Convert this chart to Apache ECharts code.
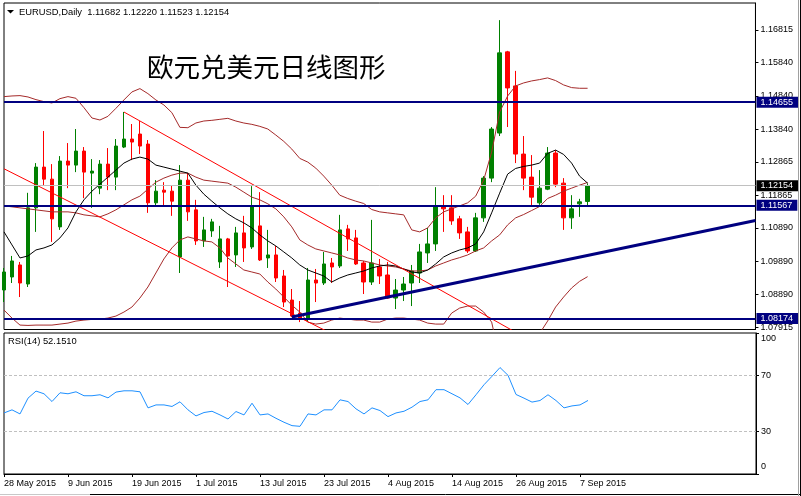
<!DOCTYPE html>
<html>
<head>
<meta charset="utf-8">
<title>EURUSD Daily</title>
<script src="https://cdn.jsdelivr.net/npm/echarts@6/dist/echarts.min.js"></script>
<style>
  html, body { margin: 0; padding: 0; background: #fff; }
  #chart { width: 801px; height: 496px; }
</style>
</head>
<body>
<div id="chart"></div>
<script>
var dates = [
  '28 May 2015', '29 May 2015', '1 Jun 2015', '2 Jun 2015', '3 Jun 2015', '4 Jun 2015', '5 Jun 2015', '8 Jun 2015',
  '9 Jun 2015', '10 Jun 2015', '11 Jun 2015', '12 Jun 2015', '15 Jun 2015', '16 Jun 2015', '17 Jun 2015', '18 Jun 2015',
  '19 Jun 2015', '22 Jun 2015', '23 Jun 2015', '24 Jun 2015', '25 Jun 2015', '26 Jun 2015', '29 Jun 2015', '30 Jun 2015',
  '1 Jul 2015', '2 Jul 2015', '3 Jul 2015', '6 Jul 2015', '7 Jul 2015', '8 Jul 2015', '9 Jul 2015', '10 Jul 2015',
  '13 Jul 2015', '14 Jul 2015', '15 Jul 2015', '16 Jul 2015', '17 Jul 2015', '20 Jul 2015', '21 Jul 2015', '22 Jul 2015',
  '23 Jul 2015', '24 Jul 2015', '27 Jul 2015', '28 Jul 2015', '29 Jul 2015', '30 Jul 2015', '31 Jul 2015', '3 Aug 2015',
  '4 Aug 2015', '5 Aug 2015', '6 Aug 2015', '7 Aug 2015', '10 Aug 2015', '11 Aug 2015', '12 Aug 2015', '13 Aug 2015',
  '14 Aug 2015', '17 Aug 2015', '18 Aug 2015', '19 Aug 2015', '20 Aug 2015', '21 Aug 2015', '24 Aug 2015', '25 Aug 2015',
  '26 Aug 2015', '27 Aug 2015', '28 Aug 2015', '31 Aug 2015', '1 Sep 2015', '2 Sep 2015', '3 Sep 2015', '4 Sep 2015',
  '7 Sep 2015', '8 Sep 2015'
];
var emptySlots = 21; // chart shift on the right

var opens = [
  1.0903, 1.0942, 1.0978, 1.0921, 1.1149, 1.1271, 1.1235, 1.1092, 1.1289, 1.1277,
  1.1319, 1.1253, 1.1208, 1.1280, 1.1241, 1.1331, 1.1355, 1.1370, 1.1340, 1.1164,
  1.1202, 1.1199, 1.1002, 1.1232, 1.1143, 1.1050, 1.1080, 1.0987, 1.1056, 1.1008,
  1.1074, 1.1032, 1.1095, 1.0999, 1.1008, 1.0945, 1.0873, 1.0834, 1.0819, 1.0933,
  1.0924, 1.0984, 1.0975, 1.1086, 1.1059, 1.0984, 1.0927, 1.0972, 1.0948, 1.0879,
  1.0903, 1.0924, 1.0954, 1.1014, 1.1041, 1.1155, 1.1149, 1.1116, 1.1077, 1.1020,
  1.1119, 1.1238, 1.1373, 1.1616, 1.1514, 1.1310, 1.1241, 1.1164, 1.1205, 1.1313,
  1.1223, 1.1119, 1.1161, 1.11682
];
var closes = [
  1.0957, 1.0990, 1.0924, 1.1149, 1.1271, 1.1235, 1.1116, 1.1289, 1.1277, 1.1319,
  1.1256, 1.1259, 1.1280, 1.1241, 1.1334, 1.1355, 1.1346, 1.1334, 1.1164, 1.1199,
  1.1196, 1.1169, 1.1232, 1.1137, 1.1050, 1.1083, 1.1107, 1.1056, 1.1005, 1.1074,
  1.1029, 1.1155, 1.0993, 1.1008, 1.0939, 1.0867, 1.0825, 1.0819, 1.0933, 1.0924,
  1.0981, 1.0972, 1.1083, 1.1056, 1.0981, 1.0927, 1.0984, 1.0945, 1.0879, 1.0903,
  1.0921, 1.0960, 1.1017, 1.1041, 1.1152, 1.1146, 1.1110, 1.1074, 1.1020, 1.1119,
  1.1238, 1.1385, 1.1613, 1.1508, 1.1310, 1.1238, 1.1181, 1.1208, 1.1313, 1.1220,
  1.1119, 1.1146, 1.1167, 1.12154
];
var lows = [
  1.0867, 1.0924, 1.0882, 1.0912, 1.1077, 1.1217, 1.1047, 1.1083, 1.1208, 1.1256,
  1.1178, 1.1149, 1.1190, 1.1202, 1.1202, 1.1328, 1.1292, 1.1310, 1.1134, 1.1152,
  1.1152, 1.1125, 1.0954, 1.1110, 1.1038, 1.1032, 1.1062, 1.0969, 1.0912, 1.0972,
  1.0987, 1.1026, 1.0990, 1.0969, 1.0927, 1.0852, 1.0822, 1.0807, 1.0807, 1.0867,
  1.0918, 1.0924, 1.0969, 1.1020, 1.0978, 1.0891, 1.0918, 1.0921, 1.0877, 1.0846,
  1.0870, 1.0855, 1.0924, 1.0984, 1.1020, 1.1077, 1.1098, 1.1056, 1.1014, 1.1017,
  1.1107, 1.1226, 1.1364, 1.1391, 1.1283, 1.1202, 1.1152, 1.1158, 1.1202, 1.1211,
  1.1083, 1.1086, 1.1122, 1.11523
];
var highs = [
  1.0969, 1.1005, 1.0987, 1.1194, 1.1283, 1.1379, 1.1280, 1.1304, 1.1343, 1.1385,
  1.1331, 1.1295, 1.1292, 1.1328, 1.1355, 1.1436, 1.1400, 1.1409, 1.1352, 1.1232,
  1.1226, 1.1217, 1.1277, 1.1253, 1.1173, 1.1122, 1.1116, 1.1095, 1.1059, 1.1092,
  1.1125, 1.1214, 1.1196, 1.1083, 1.1035, 1.0963, 1.0906, 1.0870, 1.0969, 1.0966,
  1.1017, 1.0999, 1.1128, 1.1098, 1.1083, 1.0990, 1.1113, 1.0996, 1.0987, 1.0936,
  1.0942, 1.0978, 1.1041, 1.1089, 1.1211, 1.1187, 1.1187, 1.1125, 1.1092, 1.1134,
  1.1244, 1.1391, 1.1711, 1.1619, 1.1559, 1.1364, 1.1307, 1.1262, 1.1331, 1.1322,
  1.1238, 1.1187, 1.1176, 1.12220
];

// Bollinger bands (brown) and the black moving average
var bbUpper = [
  1.1482, 1.1484, 1.1485, 1.1481, 1.1473, 1.1467, 1.1463, 1.1476, 1.1482, 1.1477,
  1.1449, 1.1418, 1.1412, 1.1423, 1.1447, 1.1472, 1.1496, 1.1506, 1.1491, 1.1472,
  1.1457, 1.1434, 1.1390, 1.1389, 1.1403, 1.1409, 1.1411, 1.1414, 1.1417, 1.1409,
  1.1403, 1.1399, 1.1393, 1.1385, 1.1367, 1.1348, 1.1325, 1.1297, 1.1286, 1.1268,
  1.1244, 1.1217, 1.1187, 1.1177, 1.1169, 1.1162, 1.1144, 1.1137, 1.1134, 1.1131,
  1.1128, 1.1083, 1.1077, 1.1089, 1.1119, 1.1137, 1.1146, 1.1155, 1.1164, 1.1184,
  1.1232, 1.1316, 1.1436, 1.1484, 1.1514, 1.1523, 1.1529, 1.1533, 1.1538, 1.1530,
  1.1517, 1.1509, 1.1507, 1.1507
];
var bbMiddle = [
  1.1155, 1.1152, 1.1149, 1.1146, 1.1143, 1.1140, 1.1137, 1.1137, 1.1137, 1.1134,
  1.1128, 1.1125, 1.1122, 1.1131, 1.1143, 1.1158, 1.1173, 1.1184, 1.1205, 1.1226,
  1.1238, 1.1247, 1.1253, 1.1253, 1.1241, 1.1232, 1.1229, 1.1226, 1.1223, 1.1211,
  1.1196, 1.1181, 1.1173, 1.1161, 1.1146, 1.1122, 1.1092, 1.1053, 1.1038, 1.1026,
  1.1020, 1.1014, 1.1008, 1.0999, 1.0993, 1.0990, 1.0984, 1.0978, 1.0975, 1.0972,
  1.0966, 1.0960, 1.0960, 1.0963, 1.0975, 1.0984, 1.0993, 1.1000, 1.1008, 1.1020,
  1.1029, 1.1050, 1.1068, 1.1098, 1.1119, 1.1129, 1.1141, 1.1153, 1.1177, 1.1187,
  1.1199, 1.1208, 1.1217, 1.1225
];
var bbLower = [
  1.0843, 1.0819, 1.0798, 1.0797, 1.0798, 1.0798, 1.0798, 1.0801, 1.0804, 1.0810,
  1.0813, 1.0815, 1.0816, 1.0819, 1.0825, 1.0837, 1.0852, 1.0879, 1.0912, 1.0954,
  1.0996, 1.1029, 1.1053, 1.1062, 1.1056, 1.1050, 1.1047, 1.1029, 1.0999, 1.0981,
  1.0963, 1.0957, 1.0951, 1.0927, 1.0906, 1.0882, 1.0858, 1.0837, 1.0807, 1.0801,
  1.0804, 1.0813, 1.0819, 1.0816, 1.0813, 1.0813, 1.0807, 1.0807, 1.0816, 1.0819,
  1.0819, 1.0816, 1.0813, 1.0804, 1.0801, 1.0801, 1.0834, 1.0849, 1.0855, 1.0855,
  1.0837, 1.0807, 1.0699, 1.0711, 1.0723, 1.0735, 1.0753, 1.0773, 1.0810, 1.0852,
  1.0882, 1.0909, 1.0929, 1.0943
];
var maBlack = [
  1.1077, 1.1038, 1.0999, 1.1005, 1.1023, 1.1029, 1.1038, 1.1059, 1.1089, 1.1137,
  1.1173, 1.1199, 1.1220, 1.1241, 1.1262, 1.1283, 1.1295, 1.1301, 1.1295, 1.1277,
  1.1271, 1.1265, 1.1259, 1.1253, 1.1217, 1.1190, 1.1169, 1.1149, 1.1131, 1.1116,
  1.1104, 1.1089, 1.1068, 1.1050, 1.1035, 1.1017, 1.0999, 1.0978, 1.0963, 1.0954,
  1.0945, 1.0927, 1.0939, 1.0948, 1.0954, 1.0960, 1.0969, 1.0975, 1.0978, 1.0975,
  1.0966, 1.0957, 1.0954, 1.0963, 1.0981, 1.1002, 1.1014, 1.1023, 1.1029, 1.1041,
  1.1077, 1.1134, 1.1193, 1.1250, 1.1267, 1.1273, 1.1277, 1.1283, 1.1312, 1.1322,
  1.1309, 1.1283, 1.1244, 1.1223
];
var rsi = [
  43.3, 45.5, 42.6, 53.8, 58.8, 56.9, 51.4, 57.6, 56.9, 58.3,
  55.5, 55.5, 56.2, 54.0, 58.1, 59.0, 59.0, 58.3, 46.9, 49.0,
  49.0, 47.9, 51.2, 45.5, 41.2, 43.6, 44.5, 41.9, 39.0, 44.3,
  41.9, 50.2, 41.9, 42.6, 39.5, 36.7, 34.3, 33.8, 42.6, 41.9,
  45.5, 45.5, 52.6, 51.4, 46.2, 42.6, 46.9, 45.0, 40.7, 43.3,
  44.5, 47.4, 51.4, 52.6, 59.8, 59.8, 56.9, 54.0, 49.3, 56.2,
  63.3, 69.3, 75.5, 70.0, 56.4, 53.8, 51.0, 52.1, 56.2, 52.1,
  46.9, 48.3, 49.0, 52.151
];

// drawn objects: [bar index, price]
var trendUp = [[36, 1.0822], [94, 1.1111]];
var channelTop = [[15, 1.1436], [65, 1.0763]];
var channelBottom = [[0, 1.1266], [42, 1.0760]];
var levels = [1.14655, 1.11567, 1.08174];
var bidPrice = 1.12154;

var priceTicks = [1.16815, 1.15840, 1.14840, 1.13840, 1.12865, 1.11865, 1.10890, 1.09890, 1.08890, 1.07915];
var priceMin = 1.07848, priceMax = 1.17623;
var rsiTicks = [0, 30, 70, 100];
var rsiLevels = [30, 70];

(function() {
  var font = 'Liberation Sans';
  var navy = '#000080';
  var brown = '#A52A2A';

  var cats = dates.slice();
  for (var k = 1; k <= emptySlots; k++) cats.push('+' + k);

  var candles = opens.map(function(o, i) { return [o, closes[i], lows[i], highs[i]]; });

  function near(list, v) {
    return list.some(function(x) { return Math.abs(x - v) < 1e-7; });
  }
  function showDate(idx) { return idx < dates.length && idx % 8 === 0; }
  function plainLine(name, data, color, width, xi, yi) {
    return {
      name: name, type: 'line', data: data, xAxisIndex: xi || 0, yAxisIndex: yi || 0,
      symbol: 'none', silent: true, z: 3,
      lineStyle: { color: color, width: width }
    };
  }

  var chart = echarts.init(document.getElementById('chart'), null, { renderer: 'canvas' });
  chart.setOption({
    animation: false,
    backgroundColor: '#ffffff',
    textStyle: { fontFamily: font },
    grid: [
      { left: 4, top: 3, width: 752, height: 326.5, show: true, borderColor: '#000', borderWidth: 1, backgroundColor: 'transparent' },
      { left: 4, top: 333, width: 752, height: 141, show: true, borderColor: '#000', borderWidth: 1, backgroundColor: 'transparent' }
    ],
    xAxis: [
      { type: 'category', gridIndex: 0, data: cats, boundaryGap: false, show: false },
      {
        type: 'category', gridIndex: 1, data: cats, boundaryGap: false,
        axisLine: { lineStyle: { color: '#000', width: 1 } },
        axisTick: { interval: function(i) { return showDate(i); }, length: 3, lineStyle: { color: '#000' } },
        axisLabel: {
          interval: function(i) { return showDate(i); },
          align: 'left', color: '#000', fontSize: 9, fontFamily: font, margin: 5
        },
        splitLine: { show: false }
      }
    ],
    yAxis: [
      {
        type: 'value', gridIndex: 0, position: 'right', scale: true,
        min: priceMin, max: priceMax,
        axisLine: { show: true, lineStyle: { color: '#000' } },
        axisTick: { show: true, length: 3, customValues: priceTicks, lineStyle: { color: '#000' } },
        axisLabel: {
          customValues: priceTicks.concat([bidPrice], levels),
          margin: 1, fontSize: 9, fontFamily: font, color: '#000',
          formatter: function(v) {
            var s = v.toFixed(5);
            if (near(levels, v)) return '{n|' + s + '}';
            if (Math.abs(v - bidPrice) < 1e-7) return '{b|' + s + '}';
            return '{p|' + s + '}';
          },
          rich: {
            p: { fontSize: 9, fontFamily: font, color: '#000', padding: [0, 0, 0, 4] },
            n: { fontSize: 9, fontFamily: font, color: '#fff', backgroundColor: navy, lineHeight: 9, padding: [1, 5, 1, 4] },
            b: { fontSize: 9, fontFamily: font, color: '#fff', backgroundColor: '#000', lineHeight: 9, padding: [1, 5, 1, 4] }
          }
        },
        splitLine: { show: false }
      },
      {
        type: 'value', gridIndex: 1, position: 'right', min: 0, max: 100,
        axisLine: { show: true, lineStyle: { color: '#000' } },
        axisTick: { show: true, length: 3, customValues: rsiTicks, lineStyle: { color: '#000' } },
        axisLabel: {
          customValues: rsiTicks, margin: 5, fontSize: 9, fontFamily: font, color: '#000',
          formatter: function(v) {
            if (v === 100) return '{t|100}';
            if (v === 0) return '{z|0}';
            return '{m|' + v + '}';
          },
          rich: {
            t: { fontSize: 9, fontFamily: font, color: '#000', padding: [12, 0, 0, 0] },
            z: { fontSize: 9, fontFamily: font, color: '#000', padding: [0, 0, 14, 0] },
            m: { fontSize: 9, fontFamily: font, color: '#000' }
          }
        },
        splitLine: { show: false }
      }
    ],
    graphic: [
      { type: 'polygon', shape: { points: [[7, 10], [14, 10], [10.5, 13.5]] }, style: { fill: '#000' } },
      {
        type: 'text', x: 19, y: 12,
        style: {
          text: 'EURUSD,Daily  ' + [opens[opens.length - 1], highs[highs.length - 1], lows[lows.length - 1], closes[closes.length - 1]]
            .map(function(v) { return v.toFixed(5); }).join(' '),
          font: '9.4px "Liberation Sans"', fill: '#000', verticalAlign: 'middle'
        }
      },
      {
        type: 'text', x: 147, y: 67,
        style: { text: '欧元兑美元日线图形', font: '26.5px "Noto Sans CJK SC"', fill: '#000', verticalAlign: 'middle' }
      },
      {
        type: 'text', x: 8, y: 341.5,
        style: { text: 'RSI(14) ' + rsi[rsi.length - 1].toFixed(4), font: '9.4px "Liberation Sans"', fill: '#000', verticalAlign: 'middle' }
      },
      { type: 'line', shape: { x1: 0, y1: 494.5, x2: 90, y2: 494.5 }, style: { stroke: '#c8c8c8', lineWidth: 1 } },
      { type: 'line', shape: { x1: 90, y1: 494.5, x2: 801, y2: 494.5 }, style: { stroke: '#000', lineWidth: 1 } },
      { type: 'line', shape: { x1: 798.5, y1: 0, x2: 798.5, y2: 496 }, style: { stroke: '#a0a0a0', lineWidth: 1 } },
      { type: 'line', shape: { x1: 800.5, y1: 0, x2: 800.5, y2: 496 }, style: { stroke: '#000', lineWidth: 1 } }
    ],
    series: [
      {
        name: 'EURUSD', type: 'candlestick', data: candles, xAxisIndex: 0, yAxisIndex: 0,
        barWidth: 4, silent: true, z: 2,
        itemStyle: {
          color: '#008000', color0: '#FF0000',
          borderColor: '#008000', borderColor0: '#FF0000', borderWidth: 1
        },
        markLine: {
          silent: true, symbol: ['none', 'none'], label: { show: false }, precision: 5,
          data: [{ yAxis: bidPrice, lineStyle: { color: '#C0C0C0', width: 1, type: 'solid' } }].concat(
            levels.map(function(v) { return { yAxis: v, lineStyle: { color: navy, width: 2, type: 'solid' } }; })
          )
        }
      },
      plainLine('BB upper', bbUpper, brown, 1),
      plainLine('BB middle', bbMiddle, brown, 1),
      plainLine('BB lower', bbLower, brown, 1),
      plainLine('MA', maBlack, '#000', 1),
      plainLine('channel top', channelTop, '#FF0000', 1),
      plainLine('channel bottom', channelBottom, '#FF0000', 1),
      plainLine('trend', trendUp, navy, 3),
      {
        name: 'RSI(14)', type: 'line', data: rsi, xAxisIndex: 1, yAxisIndex: 1,
        symbol: 'none', silent: true,
        lineStyle: { color: '#1E90FF', width: 1 },
        markLine: {
          silent: true, symbol: ['none', 'none'], label: { show: false },
          lineStyle: { color: '#C0C0C0', width: 1, type: [3, 2] },
          data: rsiLevels.map(function(v) { return { yAxis: v }; })
        }
      }
    ]
  });
  window.addEventListener('resize', function() { chart.resize(); });
})();
</script>
</body>
</html>
